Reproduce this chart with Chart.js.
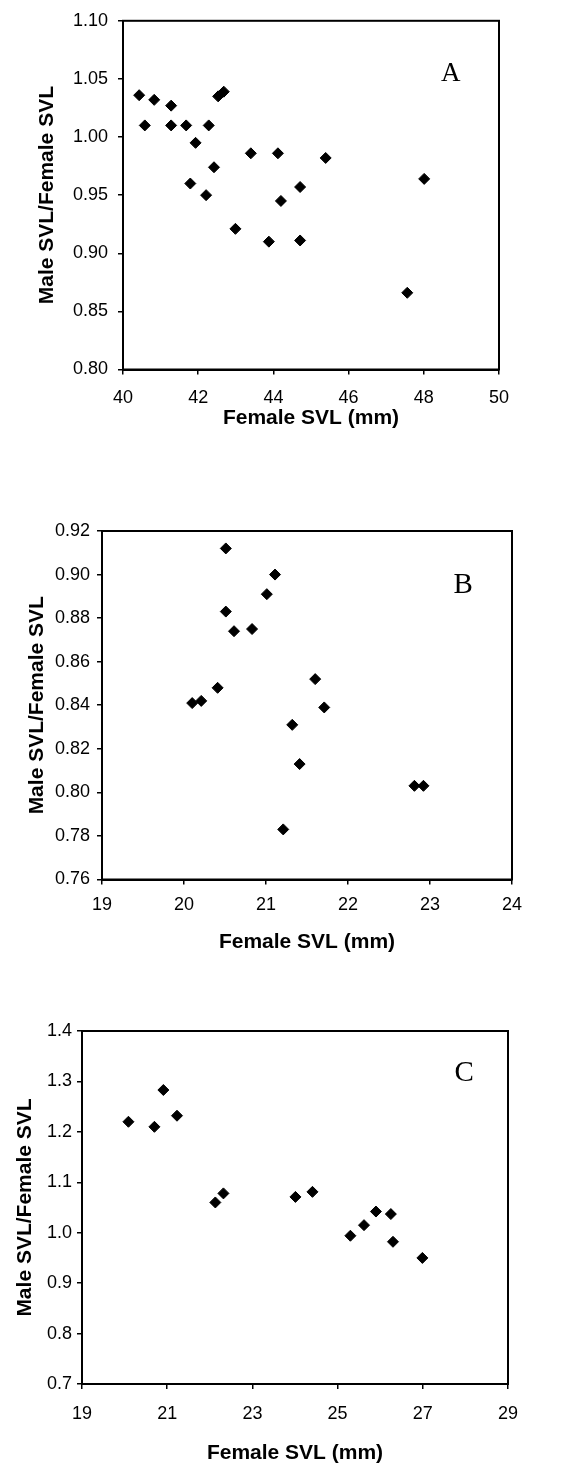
<!DOCTYPE html>
<html><head><meta charset="utf-8">
<script src="https://cdn.jsdelivr.net/npm/chart.js@4.4.1/dist/chart.umd.min.js"></script>
<style>
body{margin:0;background:#fff;width:561px;height:1466px;position:relative;overflow:hidden}
canvas{position:absolute;left:0}
</style></head><body>
<canvas id="cA" width="561" height="440" style="top:0px"></canvas>
<canvas id="cB" width="561" height="490" style="top:470px"></canvas>
<canvas id="cC" width="561" height="506" style="top:960px"></canvas>
<script>
// ---- Data ----
const femaleSvlA = [40.43,40.58,40.83,41.28,41.28,41.68,41.93,41.79,42.21,42.28,42.42,42.53,42.68,42.99,43.40,43.88,44.12,44.20,44.71,44.71,45.39,47.56,48.01];
const ratioA     = [1.036,1.010,1.032,1.027,1.010,1.010,0.995,0.960,0.950,1.010,0.974,1.035,1.039,0.921,0.986,0.910,0.986,0.945,0.957,0.911,0.982,0.866,0.964];
const femaleSvlB = [20.51,21.11,21.01,20.51,20.61,20.83,20.41,20.10,20.21,21.60,21.71,21.32,21.41,21.21,22.81,22.92];
const ratioB     = [0.912,0.900,0.891,0.883,0.874,0.875,0.848,0.841,0.842,0.852,0.839,0.831,0.813,0.783,0.803,0.803];
const femaleSvlC = [20.09,20.70,20.91,21.23,22.13,22.32,24.01,24.41,25.30,25.62,25.90,26.25,26.30,26.99];
const ratioC     = [1.220,1.210,1.283,1.232,1.060,1.078,1.071,1.081,0.994,1.015,1.042,1.037,0.982,0.950];

const xTicksA = {min:40, max:50, step:2};
const yTicksA = {min:0.80, max:1.10, step:0.05, dec:2};
const xTicksB = {min:19, max:24, step:1};
const yTicksB = {min:0.76, max:0.92, step:0.02, dec:2};
const xTicksC = {min:19, max:29, step:2};
const yTicksC = {min:0.7, max:1.4, step:0.1, dec:1};

const xTitle = 'Female SVL (mm)';
const yTitle = 'Male SVL/Female SVL';
const panelLetters = ['A','B','C'];

// ---- Layout (page pixels) ----
const layouts = [
  {top:0,   H:440, l:123, r:499, t:18.5, b:369.5, yTitleX:47, yGap:15, xTickY:398,  xTitleY:418,  letter:[0.872,0.151], letterSize:27},
  {top:470, H:490, l:102, r:512, t:531,  b:879.5, yTitleX:37, yGap:12, xTickY:905,  xTitleY:942,  letter:[0.881,0.155], letterSize:29},
  {top:960, H:506, l:82,  r:508, t:1031, b:1384,  yTitleX:25, yGap:10, xTickY:1414, xTitleY:1453, letter:[0.897,0.119], letterSize:29}
];

const TICK_FONT = 18, TITLE_FONT = 21, TL = 5;
const FAMILY = '"Liberation Sans", Arial, sans-serif';

function makeChart(id, xs, ys, xt, yt, L, letter) {
  const W = 561;
  const pts = xs.map((x,i)=>({x:x, y:ys[i]}));
  const areaTop = L.t - L.top, areaBottom = L.b - L.top;
  const xAxisH = L.H - areaBottom;
  const tickLH = TICK_FONT*1.2, titleLH = TITLE_FONT*1.2;
  const xTickPad = (L.xTickY - L.top) - areaBottom - TL - tickLH/2;
  const xTitlePadB = L.H - (L.xTitleY - L.top) - titleLH/2;
  const yTitlePadT = L.yTitleX - titleLH/2;
  const yTickPad = L.yGap - TL;

  const framePlugin = {
    id:'frame',
    afterDraw(chart){
      const {ctx, chartArea:a} = chart;
      ctx.save();
      ctx.strokeStyle = '#000'; ctx.lineWidth = 2;
      ctx.strokeRect(a.left, a.top, a.right-a.left, a.bottom-a.top);
      ctx.fillStyle = '#000';
      ctx.font = L.letterSize + 'px "Liberation Serif", "Times New Roman", serif';
      ctx.textAlign = 'center'; ctx.textBaseline = 'middle';
      ctx.fillText(letter, a.left + L.letter[0]*(a.right-a.left), a.top + L.letter[1]*(a.bottom-a.top));
      ctx.restore();
    }
  };

  return new Chart(document.getElementById(id), {
    type:'scatter',
    data:{datasets:[{data:pts, pointStyle:'rectRot', pointRadius:5.5, pointBorderWidth:1,
      backgroundColor:'#000', borderColor:'#000'}]},
    options:{
      responsive:false, animation:false, devicePixelRatio:1,
      layout:{padding:{left:0, top:areaTop, right:W-L.r, bottom:0}},
      plugins:{legend:{display:false}, tooltip:{enabled:false}},
      scales:{
        x:{type:'linear', min:xt.min, max:xt.max,
          afterFit(s){ s.height = xAxisH; },
          ticks:{stepSize:xt.step, color:'#000', padding:xTickPad, font:{size:TICK_FONT, family:FAMILY},
            callback:v=>String(v)},
          grid:{drawOnChartArea:false, color:'#000', tickLength:TL, lineWidth:1.5},
          border:{color:'#000', width:2},
          title:{display:true, text:xTitle, color:'#000', padding:{top:0,bottom:xTitlePadB},
            font:{size:TITLE_FONT, weight:'bold', family:FAMILY}}
        },
        y:{type:'linear', min:yt.min, max:yt.max,
          afterFit(s){ s.width = L.l; },
          ticks:{stepSize:yt.step, color:'#000', padding:yTickPad, font:{size:TICK_FONT, family:FAMILY},
            callback:v=>Number(v).toFixed(yt.dec)},
          grid:{drawOnChartArea:false, color:'#000', tickLength:TL, lineWidth:1.5},
          border:{color:'#000', width:2},
          title:{display:true, text:yTitle, color:'#000', padding:{top:yTitlePadT,bottom:0},
            font:{size:TITLE_FONT, weight:'bold', family:FAMILY}}
        }
      }
    },
    plugins:[framePlugin]
  });
}

makeChart('cA', femaleSvlA, ratioA, xTicksA, yTicksA, layouts[0], panelLetters[0]);
makeChart('cB', femaleSvlB, ratioB, xTicksB, yTicksB, layouts[1], panelLetters[1]);
makeChart('cC', femaleSvlC, ratioC, xTicksC, yTicksC, layouts[2], panelLetters[2]);
</script>
</body></html>
